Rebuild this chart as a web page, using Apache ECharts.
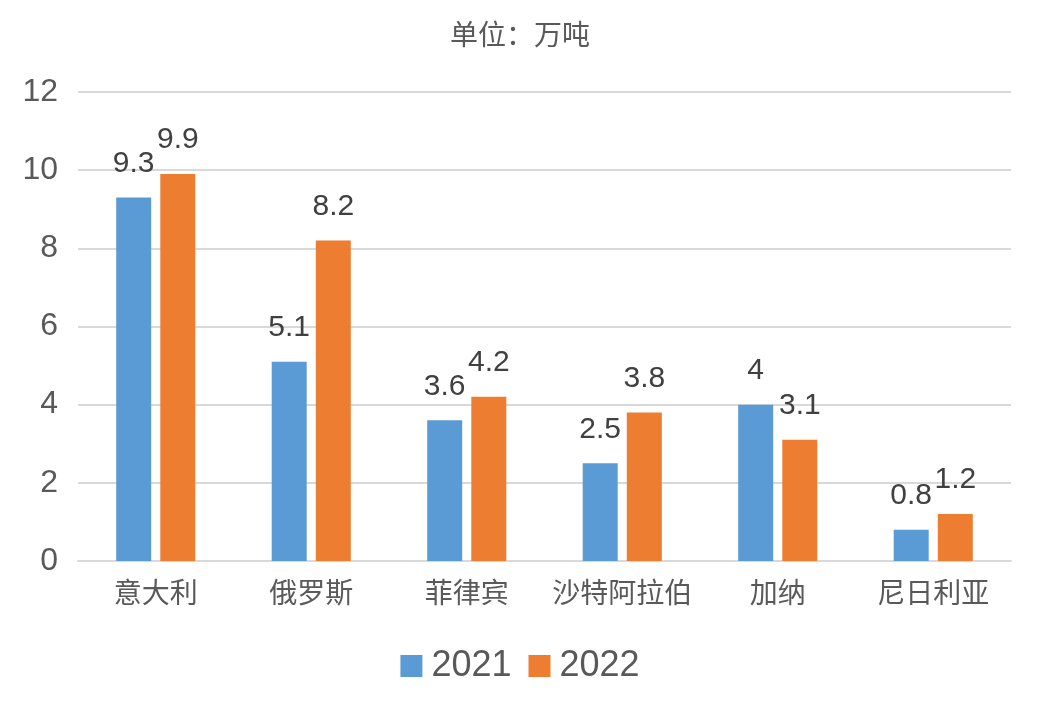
<!DOCTYPE html>
<html>
<head>
<meta charset="utf-8">
<script src="https://cdn.jsdelivr.net/npm/echarts@6/dist/echarts.min.js"></script>
<style>html,body{margin:0;padding:0;background:#fff}#c{width:1040px;height:720px}</style>
</head>
<body>
<div id="c"></div>
<script>
const categories = ['意大利', '俄罗斯', '菲律宾', '沙特阿拉伯', '加纳', '尼日利亚'];
const seriesNames = ['2021', '2022'];
const values2021 = [9.3, 5.1, 3.6, 2.5, 4, 0.8];
const values2022 = [9.9, 8.2, 4.2, 3.8, 3.1, 1.2];
const titleText = '单位：万吨';

const FONT = '"Liberation Sans", "Noto Sans CJK SC", sans-serif';
const chart = echarts.init(document.getElementById('c'));
const labelCfg = {
  show: true, position: 'top', distance: 19,
  fontSize: 30, color: '#404040', fontFamily: FONT
};
chart.setOption({
  animation: false,
  backgroundColor: '#fff',
  title: {
    text: titleText, left: 'center', top: 18,
    textStyle: { fontSize: 28, fontWeight: 'normal', color: '#595959', fontFamily: FONT }
  },
  legend: {
    data: seriesNames, bottom: 31, left: 'center',
    itemWidth: 22, itemHeight: 22, itemGap: 17, icon: 'rect',
    textStyle: { fontSize: 36, color: '#595959', fontFamily: FONT, padding: [0, 0, 0, 4] }
  },
  grid: { left: 78, right: 29, top: 92, bottom: 159, containLabel: false },
  xAxis: {
    type: 'category', data: categories,
    axisLine: { lineStyle: { color: '#d9d9d9', width: 2 } },
    axisTick: { show: false },
    axisLabel: { interval: 0, fontSize: 28, color: '#595959', margin: 20, fontFamily: FONT }
  },
  yAxis: {
    type: 'value', min: 0, max: 12, interval: 2,
    axisLine: { show: false }, axisTick: { show: false },
    splitLine: { lineStyle: { color: '#d9d9d9', width: 2 } },
    axisLabel: { fontSize: 32, color: '#595959', margin: 20, fontFamily: FONT }
  },
  series: [
    { name: seriesNames[0], type: 'bar', data: values2021, barWidth: 35, barGap: '26%',
      itemStyle: { color: '#5B9BD5' }, label: labelCfg },
    { name: seriesNames[1], type: 'bar', data: values2022, barWidth: 35,
      itemStyle: { color: '#ED7D31' }, label: labelCfg }
  ]
});
</script>
</body>
</html>
